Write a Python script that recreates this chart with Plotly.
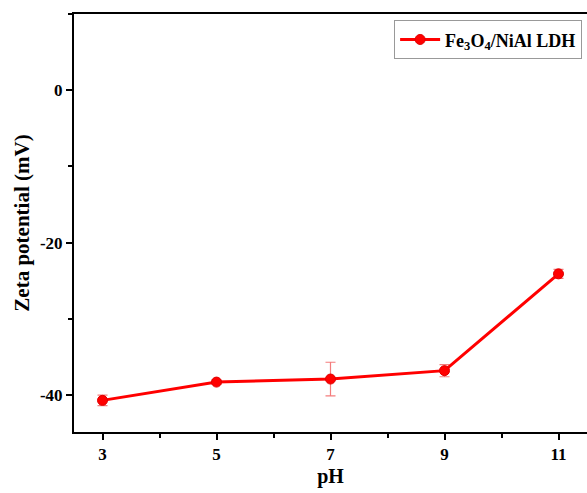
import plotly.graph_objects as go

ph = [3, 5, 7, 9, 11]
zeta = [-40.7, -38.3, -37.9, -36.8, -24.1]
zeta_err = [0.7, 0.3, 2.2, 0.8, 0.6]
series_name = "<b>Fe<sub>3</sub>O<sub>4</sub>/NiAl LDH</b>"
x_ticks = [3, 5, 7, 9, 11]
x_ticklabels = ["3", "5", "7", "9", "11"]
y_ticks = [-40, -20, 0]
y_ticklabels = ["-40", "-20", "0"]

font_family = "Liberation Serif, Times New Roman, serif"

fig = go.Figure()
fig.add_trace(go.Scatter(
    x=ph, y=zeta, name=series_name, mode="lines+markers",
    line=dict(color="#ff0000", width=3),
    marker=dict(color="#ff0000", size=10, line=dict(color="#e00000", width=1)),
    error_y=dict(type="data", array=zeta_err, visible=True,
                 color="rgba(240,80,80,0.75)", thickness=1.2, width=5),
))

axis_common = dict(
    showline=True, linecolor="black", linewidth=2, mirror=True,
    ticks="outside", ticklen=6, tickwidth=2, tickcolor="black",
    showgrid=False, zeroline=False,
    tickfont=dict(family=font_family, size=17, color="black"),
)

fig.update_layout(
    width=587, height=493,
    margin=dict(l=74, r=0, t=14, b=61, autoexpand=False),
    paper_bgcolor="white", plot_bgcolor="white",
    font=dict(family=font_family, color="black"),
    xaxis=dict(range=[2.5, 11.5], tickvals=x_ticks,
               ticktext=[f"<b>{t}</b>" for t in x_ticklabels],
               minor=dict(ticks="outside", dtick=1, tick0=3, ticklen=4, tickwidth=2, tickcolor="black"),
               title=dict(text="<b>pH</b>", font=dict(family=font_family, size=20), standoff=6),
               **axis_common),
    yaxis=dict(range=[-44.85, 10], tickvals=y_ticks,
               ticktext=[f"<b>{t}</b>" for t in y_ticklabels],
               minor=dict(ticks="outside", dtick=10, tick0=0, ticklen=4, tickwidth=2, tickcolor="black"),
               title=dict(text="<b>Zeta potential (mV)</b>", font=dict(family=font_family, size=21), standoff=5),
               **axis_common),
    showlegend=True,
    legend=dict(x=0.624, y=0.985, xanchor="left", yanchor="top",
                itemwidth=40,
                bordercolor="#999999", borderwidth=1, bgcolor="white",
                font=dict(family=font_family, size=18, color="black")),
)

fig.write_html("out.html")
